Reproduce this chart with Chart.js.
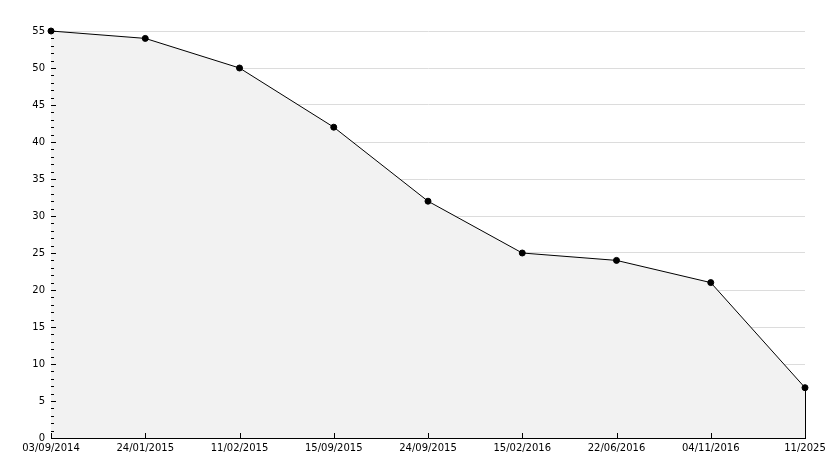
<!DOCTYPE html>
<html><head><meta charset="utf-8">
<script src="https://cdn.jsdelivr.net/npm/chart.js@4/dist/chart.umd.min.js"></script>
<style>html,body{margin:0;padding:0;background:#fff}#wrap{width:834px;height:468px}</style>
</head><body><div id="wrap"><canvas id="c" width="834" height="468"></canvas></div>
<script>
const categories = ["03/09/2014","24/01/2015","11/02/2015","15/09/2015","24/09/2015","15/02/2016","22/06/2016","04/11/2016","11/2025"];
const values = [55, 54, 50, 42, 32, 25, 24, 21, 6.8];
const yMin = 0, yMax = 55, yStep = 5, yMinorStep = 1;

const innerTicks = {
  id: 'innerTicks',
  afterDatasetsDraw(chart) {
    const ctx = chart.ctx, x = chart.scales.x, y = chart.scales.y;
    ctx.save();
    ctx.strokeStyle = '#000'; ctx.lineWidth = 1;
    ctx.beginPath();
    for (let v = yMin; v <= yMax; v += yMinorStep) {
      const py = Math.round(y.getPixelForValue(v)) + 0.5;
      const len = (v % yStep === 0) ? 5 : 3;
      ctx.moveTo(x.left, py); ctx.lineTo(x.left + len, py);
    }
    for (let i = 0; i < categories.length; i++) {
      const px = Math.round(x.getPixelForValue(i)) + 0.5;
      ctx.moveTo(px, y.bottom); ctx.lineTo(px, y.bottom - 5);
    }
    const meta = chart.getDatasetMeta(0);
    const last = meta.data[meta.data.length - 1];
    const lx = Math.round(last.x) + 0.5;
    ctx.moveTo(lx, last.y); ctx.lineTo(lx, y.bottom);
    ctx.stroke();
    ctx.restore();
  }
};

new Chart(document.getElementById('c'), {
  type: 'line',
  data: {
    labels: categories,
    datasets: [{
      data: values,
      borderColor: '#000', borderWidth: 1,
      backgroundColor: '#f2f2f2', fill: 'origin',
      pointRadius: 3, pointBackgroundColor: '#000', pointBorderColor: '#000', pointBorderWidth: 1,
      tension: 0, clip: false
    }]
  },
  options: {
    responsive: false, animation: false, devicePixelRatio: 1,
    layout: { padding: { top: 31, right: 29, left: 0, bottom: 0 } },
    plugins: { legend: { display: false }, tooltip: { enabled: false } },
    scales: {
      x: {
        offset: false,
        grid: { display: false, drawTicks: false },
        border: { color: '#000', width: 1 },
        ticks: { color: '#000', font: { family: 'DejaVu Sans', size: 10 }, maxRotation: 0, autoSkip: false, padding: 4 },
        afterFit(s) { s.height = 30; }
      },
      y: {
        min: yMin, max: yMax,
        grid: { color: '#dcdcdc', drawTicks: false },
        border: { color: '#000', width: 1 },
        ticks: { stepSize: yStep, color: '#000', font: { family: 'DejaVu Sans', size: 10 }, padding: 6 },
        afterFit(s) { s.width = 51; }
      }
    }
  },
  plugins: [innerTicks]
});
</script></body></html>
